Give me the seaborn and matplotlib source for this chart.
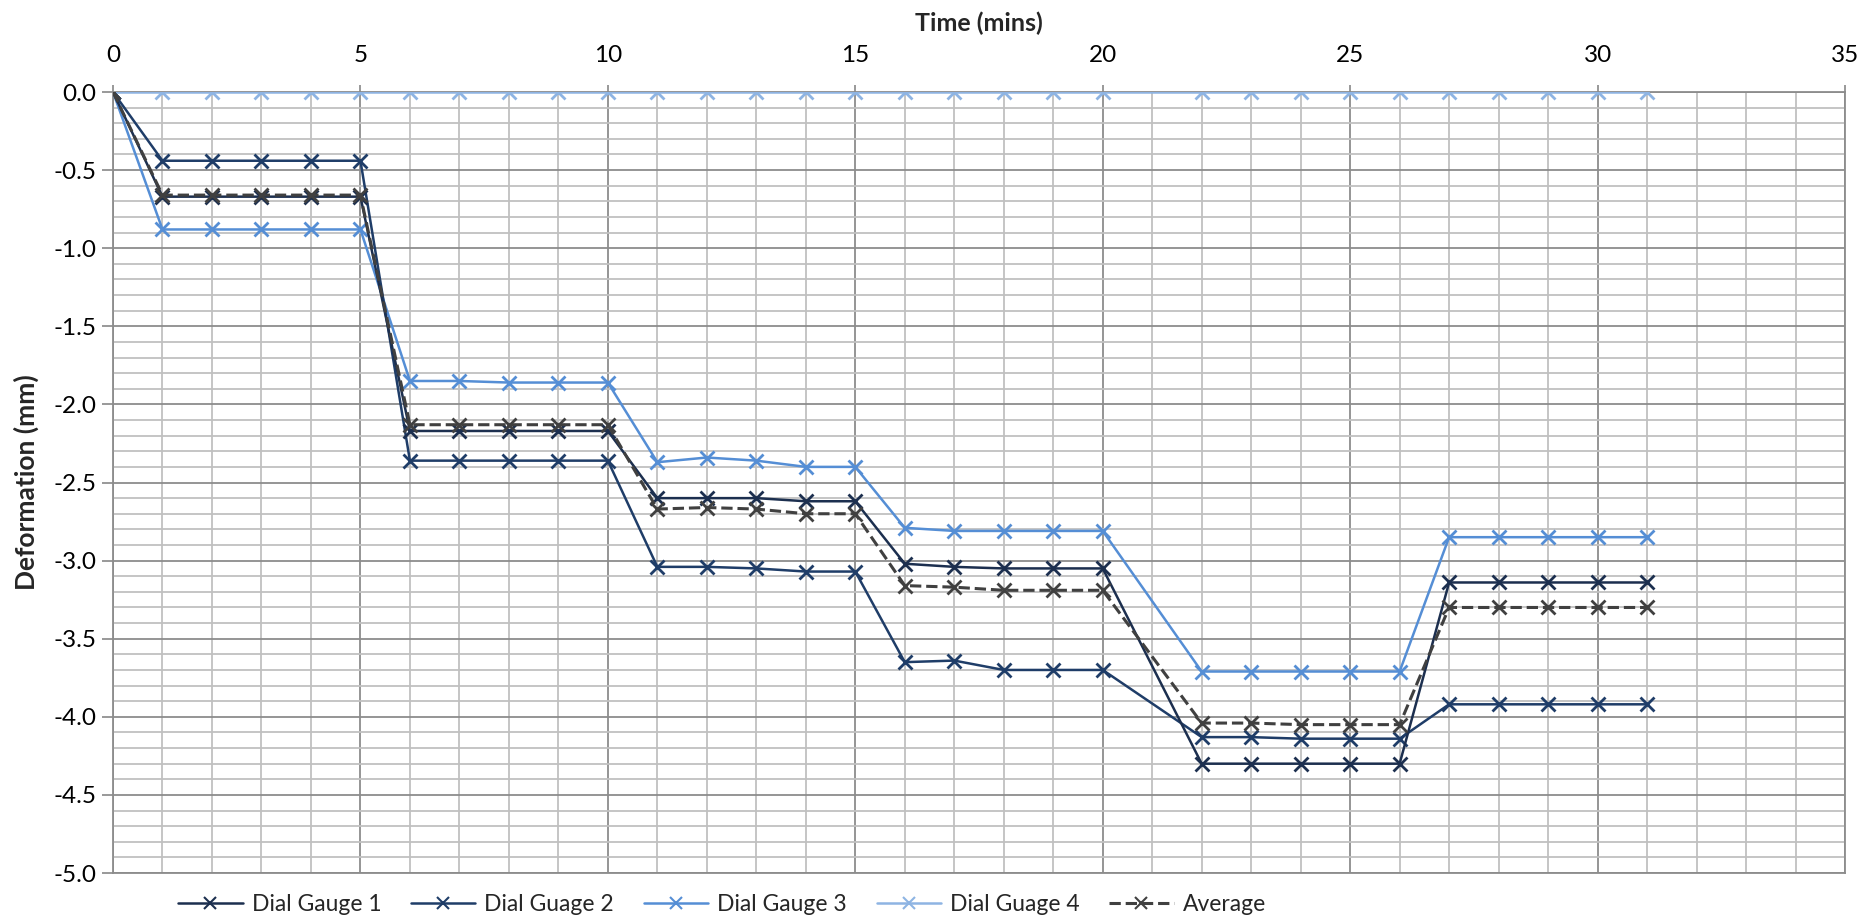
import numpy as np
import pandas as pd
import seaborn as sns
import matplotlib.pyplot as plt
from matplotlib.ticker import MultipleLocator, FormatStrFormatter

# --- Data ---

time = [0, 1, 2, 3, 4, 5, 6, 7, 8, 9, 10, 11, 12, 13, 14, 15, 16, 17, 18, 19, 20,
        22, 23, 24, 25, 26, 27, 28, 29, 30, 31]

gauge_1 = [0, -0.67, -0.67, -0.67, -0.67, -0.67,
           -2.17, -2.17, -2.17, -2.17, -2.17,
           -2.60, -2.60, -2.60, -2.62, -2.62,
           -3.02, -3.04, -3.05, -3.05, -3.05,
           -4.30, -4.30, -4.30, -4.30, -4.30,
           -3.14, -3.14, -3.14, -3.14, -3.14]

gauge_2 = [0, -0.44, -0.44, -0.44, -0.44, -0.44,
           -2.36, -2.36, -2.36, -2.36, -2.36,
           -3.04, -3.04, -3.05, -3.07, -3.07,
           -3.65, -3.64, -3.70, -3.70, -3.70,
           -4.13, -4.13, -4.14, -4.14, -4.14,
           -3.92, -3.92, -3.92, -3.92, -3.92]

gauge_3 = [0, -0.88, -0.88, -0.88, -0.88, -0.88,
           -1.85, -1.85, -1.86, -1.86, -1.86,
           -2.37, -2.34, -2.36, -2.40, -2.40,
           -2.79, -2.81, -2.81, -2.81, -2.81,
           -3.71, -3.71, -3.71, -3.71, -3.71,
           -2.85, -2.85, -2.85, -2.85, -2.85]

gauge_4 = [0] * 31

average = [0, -0.66, -0.66, -0.66, -0.66, -0.66,
           -2.13, -2.13, -2.13, -2.13, -2.13,
           -2.67, -2.66, -2.67, -2.70, -2.70,
           -3.16, -3.17, -3.19, -3.19, -3.19,
           -4.04, -4.04, -4.05, -4.05, -4.05,
           -3.30, -3.30, -3.30, -3.30, -3.30]

series_names = ['Dial Gauge 1', 'Dial Guage 2', 'Dial Gauge 3', 'Dial Guage 4', 'Average']

# --- Style ---

sns.set_theme(style='white')
plt.rcParams['font.family'] = ['Lato', 'DejaVu Sans']
plt.rcParams['axes.unicode_minus'] = False

colors = {
    'Dial Gauge 1': '#1c2f4f',
    'Dial Guage 2': '#1f3d68',
    'Dial Gauge 3': '#558ed5',
    'Dial Guage 4': '#8eb4e3',
    'Average': '#404040',
}

fig = plt.figure(figsize=(18.71, 9.21), dpi=100)
ax = fig.add_axes([0.0604, 0.0521, 0.9257, 0.848])

values = [gauge_1, gauge_2, gauge_3, gauge_4, average]
draw_order = ['Dial Guage 4', 'Dial Gauge 3', 'Dial Guage 2', 'Dial Gauge 1', 'Average']
for name in draw_order:
  y = values[series_names.index(name)]
  sns.lineplot(
      x=time, y=y, ax=ax,
      color=colors[name],
      linestyle='--' if name == 'Average' else '-',
      linewidth=2.2 if name == 'Average' else 1.8,
      marker='x', markersize=10, markeredgewidth=2,
      markeredgecolor=colors[name],
      label=name, zorder=3,
  )

# --- Axes ---

ax.set_xlim(0, 35)
ax.set_ylim(-5, 0)
ax.xaxis.set_major_locator(MultipleLocator(5))
ax.xaxis.set_minor_locator(MultipleLocator(1))
ax.yaxis.set_major_locator(MultipleLocator(0.5))
ax.yaxis.set_minor_locator(MultipleLocator(0.1))
ax.yaxis.set_major_formatter(FormatStrFormatter('%.1f'))

ax.grid(which='major', color='#8c8c8c', linewidth=1.3, zorder=1)
ax.grid(which='minor', color='#c0c0c0', linewidth=1.3, zorder=0)
ax.set_axisbelow(True)

for side in ['left', 'right', 'top', 'bottom']:
  ax.spines[side].set_visible(True)
  ax.spines[side].set_color('#8c8c8c')
  ax.spines[side].set_linewidth(1.3)

ax.xaxis.tick_top()
ax.xaxis.set_label_position('top')
ax.tick_params(axis='x', which='major', top=True, length=5, color='#8c8c8c',
               labelsize=17.5, pad=14, labelcolor='black')
ax.tick_params(axis='y', which='major', left=True, length=8, color='#8c8c8c',
               labelsize=17.5, pad=4, labelcolor='black')
ax.tick_params(which='minor', length=0)

ax.set_xlabel('Time (mins)', fontsize=18, fontweight='bold', labelpad=10)
ax.set_ylabel('Deformation (mm)', fontsize=19, fontweight='bold', labelpad=10)

handles, labels = ax.get_legend_handles_labels()
order = [labels.index(n) for n in series_names]
leg = ax.legend(
    [handles[i] for i in order], [labels[i] for i in order],
    loc='center', bbox_to_anchor=(0.386, 0.018), bbox_transform=fig.transFigure,
    ncol=5, frameon=False, fontsize=16.5, handlelength=2.8, columnspacing=1.3,
    handletextpad=0.4,
)
for h in leg.legend_handles:
  h.set_markersize(8)
  h.set_markeredgewidth(1.5)

fig.savefig('out.png', dpi=100)
